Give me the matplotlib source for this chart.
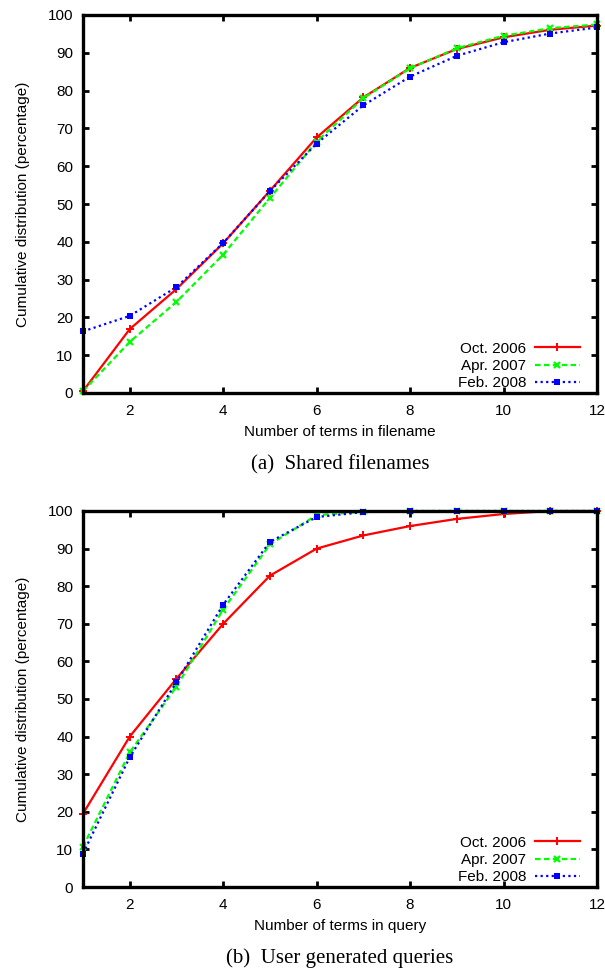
import matplotlib
matplotlib.use('Agg')
import matplotlib.pyplot as plt

# number of terms (x axis)
terms = [1, 2, 3, 4, 5, 6, 7, 8, 9, 10, 11, 12]
series_names = ['Oct. 2006', 'Apr. 2007', 'Feb. 2008']

# (a) shared filenames, cumulative %
files_oct06 = [0.5, 16.9, 27.5, 39.6, 53.5, 67.6, 78.2, 86.0, 91.0, 94.1, 96.1, 97.2]
files_apr07 = [0.5, 13.5, 24.1, 36.6, 51.6, 66.5, 78.0, 85.9, 91.2, 94.5, 96.5, 97.5]
files_feb08 = [16.3, 20.4, 28.0, 39.7, 53.4, 66.0, 76.1, 83.7, 89.2, 92.8, 95.1, 96.7]

# (b) user generated queries, cumulative %
query_oct06 = [19.5, 40.0, 55.4, 70.0, 82.8, 90.0, 93.5, 96.0, 97.9, 99.2, 100.0, 100.0]
query_apr07 = [10.7, 35.8, 53.3, 73.8, 91.1, 98.9, 99.8, 100.0, 100.0, 100.0, 100.0, 100.0]
query_feb08 = [8.9, 34.5, 54.5, 75.1, 91.8, 98.4, 99.7, 100.0, 100.0, 100.0, 100.0, 100.0]

sans = ['Liberation Sans', 'DejaVu Sans']
serif = ['Liberation Serif', 'DejaVu Serif']
plt.rcParams['font.family'] = sans

styles = [
    dict(color='#ff0000', linestyle='-', marker='+', markersize=5.5, markeredgewidth=1.4),
    dict(color='#00ff00', linestyle=(0, (2.5, 1.5)), marker='x', markersize=4.5, markeredgewidth=1.6),
    dict(color='#0000ff', linestyle=(0, (1, 1.5)), marker='s', markersize=4.2, markeredgewidth=0),
]


def draw_panel(ax, data, xlabel, caption):
    for values, name, st in zip(data, series_names, styles):
        ax.plot(terms, values, label=name, linewidth=1.6, clip_on=False, zorder=3, **st)
    ax.set_xlim(1, 12)
    ax.set_ylim(0, 100)
    ax.set_xticks([2, 4, 6, 8, 10, 12])
    ax.set_yticks(range(0, 101, 10))
    ax.tick_params(direction='in', length=4, width=2, labelsize=11,
                   top=True, right=True)
    ax.tick_params(axis='x', pad=8)
    ax.tick_params(axis='y', pad=7)
    for sp in ax.spines.values():
        sp.set_linewidth(2.4)
        sp.set_zorder(4)
    ax.set_xlabel(xlabel, fontsize=11, labelpad=5)
    ax.set_ylabel('Cumulative distribution (percentage)', fontsize=11, labelpad=13)
    ax.legend(loc='lower right', frameon=False, markerfirst=False, fontsize=11,
              handlelength=2.9, handletextpad=0.6, labelspacing=0.2,
              borderaxespad=0.0, borderpad=0.2, bbox_to_anchor=(0.972, 0.0))
    ax.text(0.5, -0.19, caption, transform=ax.transAxes, ha='center', va='center',
            fontsize=15, family=serif)


fig = plt.figure(figsize=(6.05, 9.71), dpi=100)
ax1 = fig.add_axes([83 / 605, 1 - 393 / 971, 514 / 605, 378 / 971])
ax2 = fig.add_axes([83 / 605, 1 - 887 / 971, 514 / 605, 376 / 971])

draw_panel(ax1, [files_oct06, files_apr07, files_feb08],
           'Number of terms in filename', '(a)  Shared filenames')
draw_panel(ax2, [query_oct06, query_apr07, query_feb08],
           'Number of terms in query', '(b)  User generated queries')

fig.savefig('out.png', dpi=100)
